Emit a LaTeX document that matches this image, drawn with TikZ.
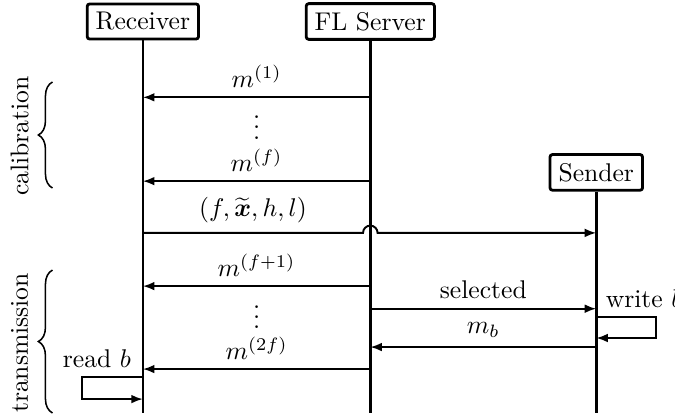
\documentclass[tikz,border=0pt]{standalone}
\usepackage{amsmath,amssymb}
\usepackage{times}
\usetikzlibrary{positioning,calc,arrows.meta,decorations.pathreplacing}
\tikzset{
    actor/.style={draw, line width=1.1pt, rounded corners=1pt},
    lifeline/.style={line width=1pt},
    msg/.style={line width=0.75pt, -{Latex[length=4.5pt,width=3.4pt]}},
    phase/.style={semithick, decorate, decoration={brace, amplitude=5.5pt}}
}
\begin{document}
\begin{tikzpicture}
    \useasboundingbox (0,0) rectangle (9.26,5.735);
    \node[actor] (rec) at (1.96,5.44) {Receiver};
    \node[actor] (srv) at (5.08,5.44) {FL Server};
    \node[actor] (snd) at (8.18,3.37) {Sender};
    \draw[lifeline] (rec) -- (rec |- 0,0.07);
    \draw[lifeline] (srv) -- (srv |- 0,0.07);
    \draw[lifeline] (snd) -- (snd |- 0,0.07);
    % calibration
    \draw[msg] (srv |- 0,4.40) -- node[above] {$m^{(1)}$} (rec |- 0,4.40);
    \node (dots1) at (3.52,4.09) {$\vdots$};
    \draw[msg] (srv |- 0,3.25) -- node[above] {$m^{(f)}$} (rec |- 0,3.25);
    \coordinate (jump) at ($(srv |- 0,2.54)+(-0.1,0)$);
    \draw[msg] (rec |- 0,2.54) -- node[above] {$(f,\widetilde{\boldsymbol{x}},h,l)$} (jump)
        arc[start angle=180, end angle=0, radius=0.1] -- (snd |- 0,2.54);
    % transmission
    \draw[msg] (srv |- 0,1.81) -- node[above] {$m^{(f+1)}$} (rec |- 0,1.81);
    \node (dots2) at (3.52,1.49) {$\vdots$};
    \draw[msg] (srv |- 0,1.50) -- node[above] {selected} (snd |- 0,1.50);
    \draw[msg] (snd |- 0,1.386) node[above right] {write $b$} -- (9.0,1.386) -- (9.0,1.098) -- (snd |- 0,1.098);
    \draw[msg] (snd |- 0,0.974) -- node[above] {$m_b$} (srv |- 0,0.974);
    \draw[msg] (srv |- 0,0.672) -- node[above] {$m^{(2f)}$} (rec |- 0,0.672);
    \draw[msg] (rec |- 0,0.5626) -- (1.125,0.5626) -- (1.125,0.26) -- (rec |- 0,0.26);
    \node[above] (read) at (1.33,0.5626) {read $b$};
    % phases
    \draw[phase] (0.72,3.156) -- (0.72,4.61);
    \node[rotate=90] (calib) at (0.27,3.87) {calibration};
    \draw[phase] (0.72,0.07) -- (0.72,2.03);
    \node[rotate=90] (trans) at (0.27,1.03) {transmission};
\end{tikzpicture}
\end{document}
